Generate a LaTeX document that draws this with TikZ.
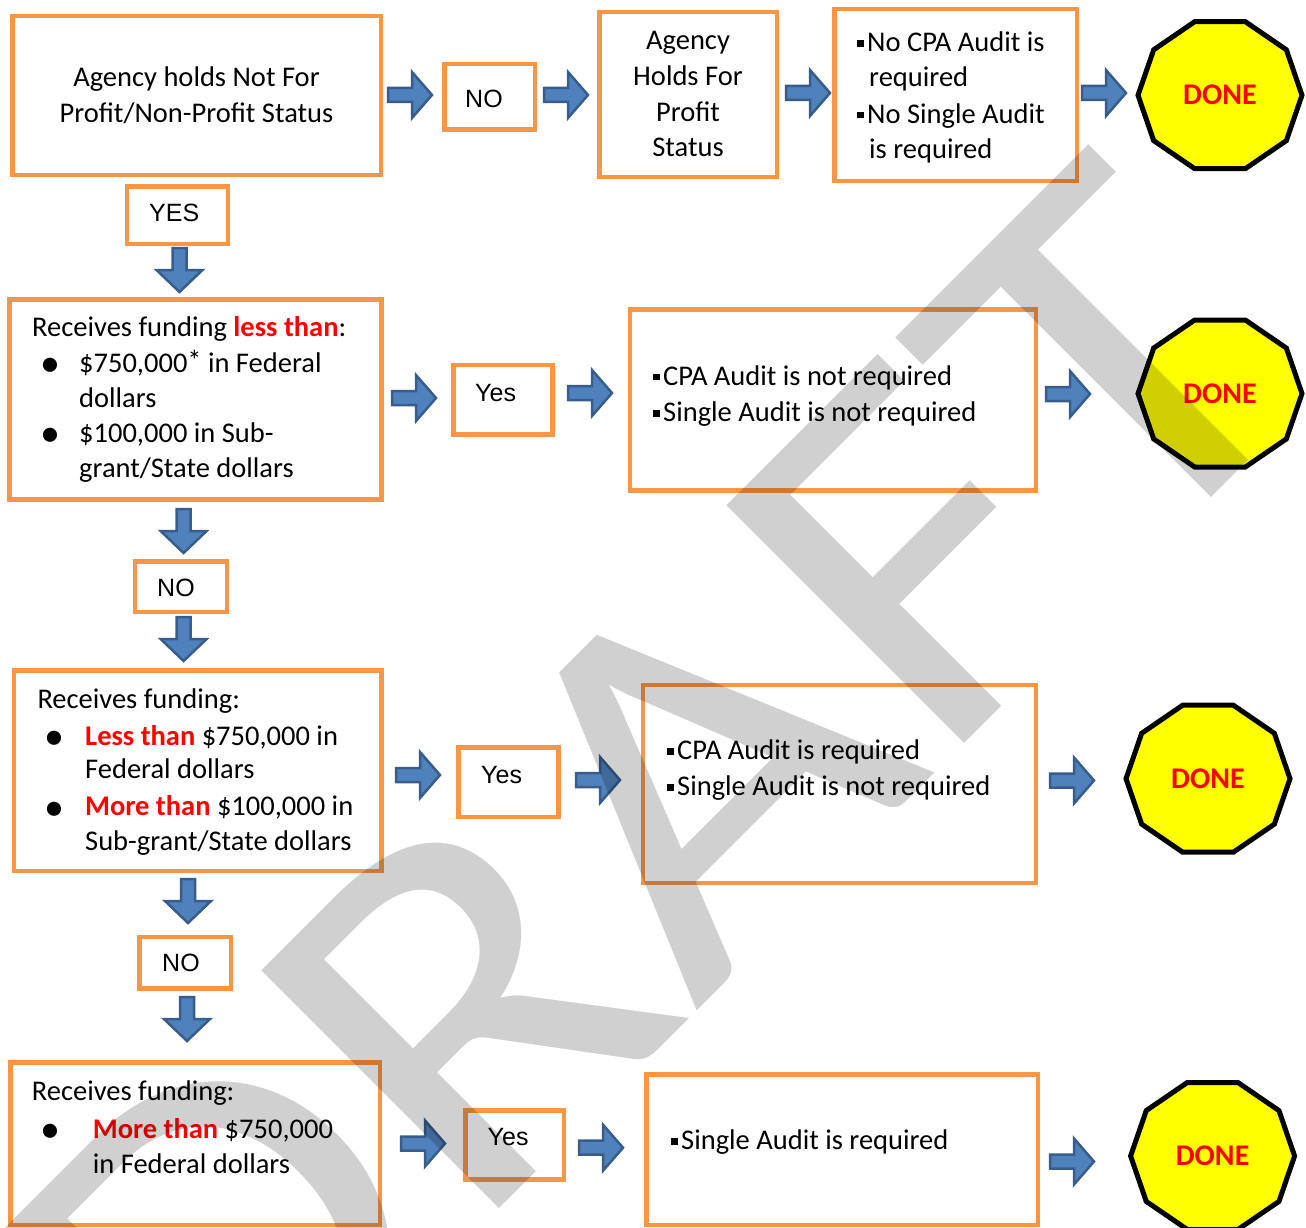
\documentclass[tikz,border=0pt]{standalone}
\usepackage{fontspec}
\setmainfont{Carlito}
\newfontfamily\arialf{Liberation Sans}
\definecolor{boxor}{HTML}{F79646}
\definecolor{arrfill}{HTML}{4F81BD}
\definecolor{arrline}{HTML}{385D8A}
\definecolor{wmgray}{HTML}{D0D0D0}
\definecolor{redt}{HTML}{FF0000}
\definecolor{yel}{HTML}{FFFF00}
\newcommand\sqb{\rule[5pt]{6.5pt}{6.5pt}\hspace{3.5pt}}
\newcommand\rd[1]{{\bfseries\color{redt}#1}}
\newcommand\rarrow[2]{\filldraw[arr] (#1,#2-7) -- (#1+24,#2-7) -- (#1+24,#2-23) -- (#1+44,#2) -- (#1+24,#2+23) -- (#1+24,#2+7) -- (#1,#2+7) -- cycle;}
\newcommand\darrow[2]{\filldraw[arr] (#1-7,#2) -- (#1+7,#2) -- (#1+7,#2+22) -- (#1+23,#2+22) -- (#1,#2+44) -- (#1-23,#2+22) -- (#1-7,#2+22) -- cycle;}
\newcommand\decag[3]{\draw[dec] ({#2+82},{#3}) \foreach \a in {36,72,...,324} { -- ({#2+82*cos(\a)},{#3+73.5*sin(\a)/sin(72)}) } -- cycle;
\node[donet] (#1) at (#2,#3) {DONE};}
\tikzset{
 obox/.style={draw=boxor, line width=4.5pt, inner sep=0pt},
 body/.style={font=\fontsize{28.5}{35}\selectfont, inner sep=0pt, anchor=base west},
 bodyc/.style={body, anchor=base},
 lbl/.style={font=\arialf\fontsize{25}{30}\selectfont, inner sep=0pt, anchor=base west},
 bul/.style={font=\fontsize{40}{40}\selectfont, inner sep=0pt, anchor=base},
 arr/.style={fill=arrfill, draw=arrline, line width=2.5pt, line join=miter},
 dec/.style={fill=yel, draw=black, line width=5pt, line join=miter},
 donet/.style={font=\bfseries\fontsize{30}{36}\selectfont, text=redt, inner sep=0pt},
 wmark/.style={rotate=45, anchor=base west, inner sep=0pt, text=wmgray, font=\fontsize{524}{524}\selectfont}
}
\begin{document}
\begin{tikzpicture}[x=1pt,y=-1pt]
\useasboundingbox (0,0) rectangle (1306,1228);
\fill[white] (0,0) rectangle (1306,1228);
\begin{scope}
\clip (0,0) rectangle (1306,1228);
% boxes
\node[obox, minimum width=368.5pt, minimum height=158.5pt] (A) at (196.5,95.5) {};
\node[obox, minimum width=90.5pt, minimum height=65.5pt] (no1) at (489.5,97) {};
\node[obox, minimum width=177.5pt, minimum height=164.5pt] (fp) at (688,94.5) {};
\node[obox, minimum width=242.5pt, minimum height=171.5pt] (nc) at (955.5,95) {};
\node[obox, minimum width=101pt, minimum height=57.2pt] (yes1) at (177.3,215.2) {};
\node[obox, minimum width=371.8pt, minimum height=199.9pt] (B) at (195.6,399.5) {};
\node[obox, minimum width=98.8pt, minimum height=69.5pt] (y2) at (503.1,399.7) {};
\node[obox, minimum width=405.9pt, minimum height=180.9pt] (r2) at (833.1,400) {};
\node[obox, minimum width=92.2pt, minimum height=50.5pt] (no2) at (181.1,586.8) {};
\node[obox, minimum width=367.7pt, minimum height=200.5pt] (C) at (197.7,770.5) {};
\node[obox, minimum width=100pt, minimum height=69.9pt] (y3) at (508.7,782.2) {};
\node[obox, minimum width=393.3pt, minimum height=198.4pt] (r3) at (839.4,784) {};
\node[obox, minimum width=91.5pt, minimum height=51.2pt] (no3) at (185.3,962.8) {};
\node[obox, minimum width=369.5pt, minimum height=162.5pt] (D) at (195,1143.5) {};
\node[obox, minimum width=98.9pt, minimum height=69.2pt] (y4) at (514.7,1144.9) {};
\node[obox, minimum width=391.5pt, minimum height=150.5pt] (r4) at (842,1149.5) {};
% texts row 1
\node[bodyc] (ta1) at (196.5,87) {Agency holds Not For};
\node[bodyc] (ta2) at (196.5,123) {Profit/Non-Profit Status};
\node[lbl] (tno1) at (465,107.3) {NO};
\node[bodyc] (tf1) at (688,50) {Agency};
\node[bodyc] (tf2) at (688,85.5) {Holds For};
\node[bodyc] (tf3) at (688,121.5) {Profit};
\node[bodyc] (tf4) at (688,157) {Status};
\node[body] (tn1) at (857,51.7) {\sqb No CPA Audit is};
\node[body] (tn2) at (869,86.7) {required};
\node[body] (tn3) at (857,123.3) {\sqb No Single Audit};
\node[body] (tn4) at (869,158.3) {is required};
\node[lbl] (tyes1) at (149,221.7) {YES};
% row 2
\node[body] (tb1) at (32,336.7) {Receives funding \rd{less than}:};
\node[bul] (bb1) at (50,376.5) {\textbullet};
\node[body] (tb2) at (79,372.3) {\$750,000\raisebox{2pt}{*} in Federal};
\node[body] (tb3) at (79,407.3) {dollars};
\node[bul] (bb2) at (50,446.9) {\textbullet};
\node[body] (tb4) at (79,442.7) {\$100,000 in Sub-};
\node[body] (tb5) at (79,477.3) {grant/State dollars};
\node[lbl] (ty2) at (475,401) {Yes};
\node[body] (tr21) at (653,385) {\sqb CPA Audit is not required};
\node[body] (tr22) at (653,421.7) {\sqb Single Audit is not required};
\node[lbl] (tno2) at (157,596.7) {NO};
% row 3
\node[body] (tc1) at (37.3,708.9) {Receives funding:};
\node[bul] (bc1) at (54,749.3) {\textbullet};
\node[body] (tc2) at (85,745.1) {\rd{Less than} \$750,000 in};
\node[body] (tc3) at (85,778.8) {Federal dollars};
\node[bul] (bc2) at (54,820) {\textbullet};
\node[body] (tc4) at (85,815.8) {\rd{More than} \$100,000 in};
\node[body] (tc5) at (85,850.2) {Sub-grant/State dollars};
\node[lbl] (ty3) at (481,783) {Yes};
\node[body] (tr31) at (667,759.6) {\sqb CPA Audit is required};
\node[body] (tr32) at (667,795.9) {\sqb Single Audit is not required};
\node[lbl] (tno3) at (162,971.6) {NO};
% row 4
\node[body] (td1) at (31.7,1100) {Receives funding:};
\node[bul] (bd1) at (50,1142.5) {\textbullet};
\node[body] (td2) at (92.7,1138.3) {\rd{More than} \$750,000};
\node[body] (td3) at (92.7,1173.3) {in Federal dollars};
\node[lbl] (ty4) at (487.5,1145.5) {Yes};
\node[body] (tr41) at (671,1149.9) {\sqb Single Audit is required};
% arrows
\rarrow{388}{95} \rarrow{544}{95} \rarrow{786}{93} \rarrow{1082}{93}
\rarrow{392}{398} \rarrow{568}{393} \rarrow{1046}{394}
\rarrow{396}{775} \rarrow{576}{780} \rarrow{1050}{780.5}
\rarrow{401}{1143.5} \rarrow{579}{1147.7} \rarrow{1050}{1161.5}
\darrow{179.5}{248} \darrow{183.6}{509} \darrow{183.6}{617} \darrow{188}{879} \darrow{187}{997}
% done
\decag{d1}{1220}{95.2}
\decag{d2}{1220}{393.5}
\decag{d3}{1208}{778.7}
\decag{d4}{1212.6}{1156}
% watermark
\begin{scope}[blend mode=multiply]
\node[wmark] (wm) at (213.3,1495.2) {\scalebox{1.124}[1]{DRAFT}};
\end{scope}
\end{scope}
\end{tikzpicture}
\end{document}
